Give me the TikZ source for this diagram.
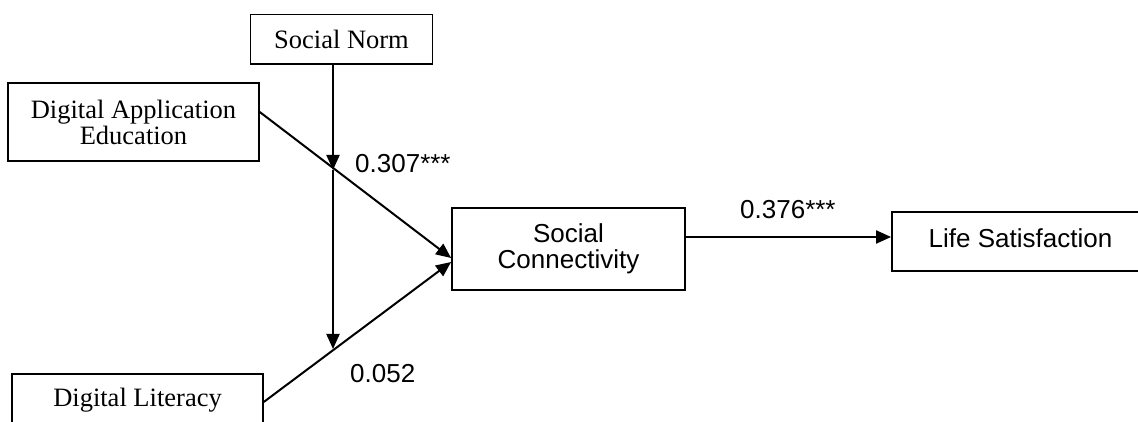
\documentclass[tikz,border=0pt]{standalone}
\usepackage{fontspec}
\setmainfont{Liberation Serif}
\newfontfamily\arialfont{Liberation Sans}
\usetikzlibrary{arrows.meta}
\begin{document}
\begin{tikzpicture}[x=1pt,y=1pt,
  serifbox/.style={draw, line width=1.5pt, inner sep=0pt, align=center,
    font=\fontsize{26.5}{26}\selectfont},
  sansbox/.style={draw, line width=1.8pt, inner sep=0pt, align=center,
    font=\arialfont\fontsize{26}{26}\selectfont},
  arr/.style={line width=2pt, -{Triangle[length=15pt,width=13pt]}},
  coef/.style={font=\arialfont\fontsize{26}{26}\selectfont, inner sep=0pt, anchor=base west}]
\useasboundingbox (0,0) rectangle (1138,422);
\clip (0,0) rectangle (1138,422);
\fill[white] (0,0) rectangle (1138,422);

\node[serifbox, minimum width=182pt, minimum height=49.7pt] (sn) at (341.5,382.8) {Social Norm};
\node[serifbox, minimum width=251pt, minimum height=78pt] (dae) at (133.5,300) {Digital Application\\Education};
\node[serifbox, minimum width=251pt, minimum height=52pt] (dl) at (137.5,22) {Digital Literacy};
\node[sansbox, minimum width=233pt, minimum height=82pt] (sc) at (568.5,173) {Social\\Connectivity};
\node[sansbox, minimum width=257pt, minimum height=59pt, text height=19pt, text depth=6pt] (ls) at (1020.5,180.5) {Life Satisfaction};

\coordinate (m1) at (333,252);
\coordinate (m2) at (333,73);
\draw[arr] (sn.south -| m1) -- (m1);
\draw[arr] (m1) -- (m2);
\draw[arr] ([yshift=10pt]dae.east) -- ([yshift=-9pt]sc.west);
\draw[arr] ([yshift=-2pt]dl.east) -- ([yshift=-13pt]sc.west);
\draw[arr] ([yshift=12pt]sc.east) -- ([yshift=12pt]sc.east -| ls.west);

\node[coef] (c1) at (355,249) {0.307***};
\node[coef] (c2) at (350,39) {0.052};
\node[coef] (c3) at (740,203) {0.376***};
\end{tikzpicture}
\end{document}
